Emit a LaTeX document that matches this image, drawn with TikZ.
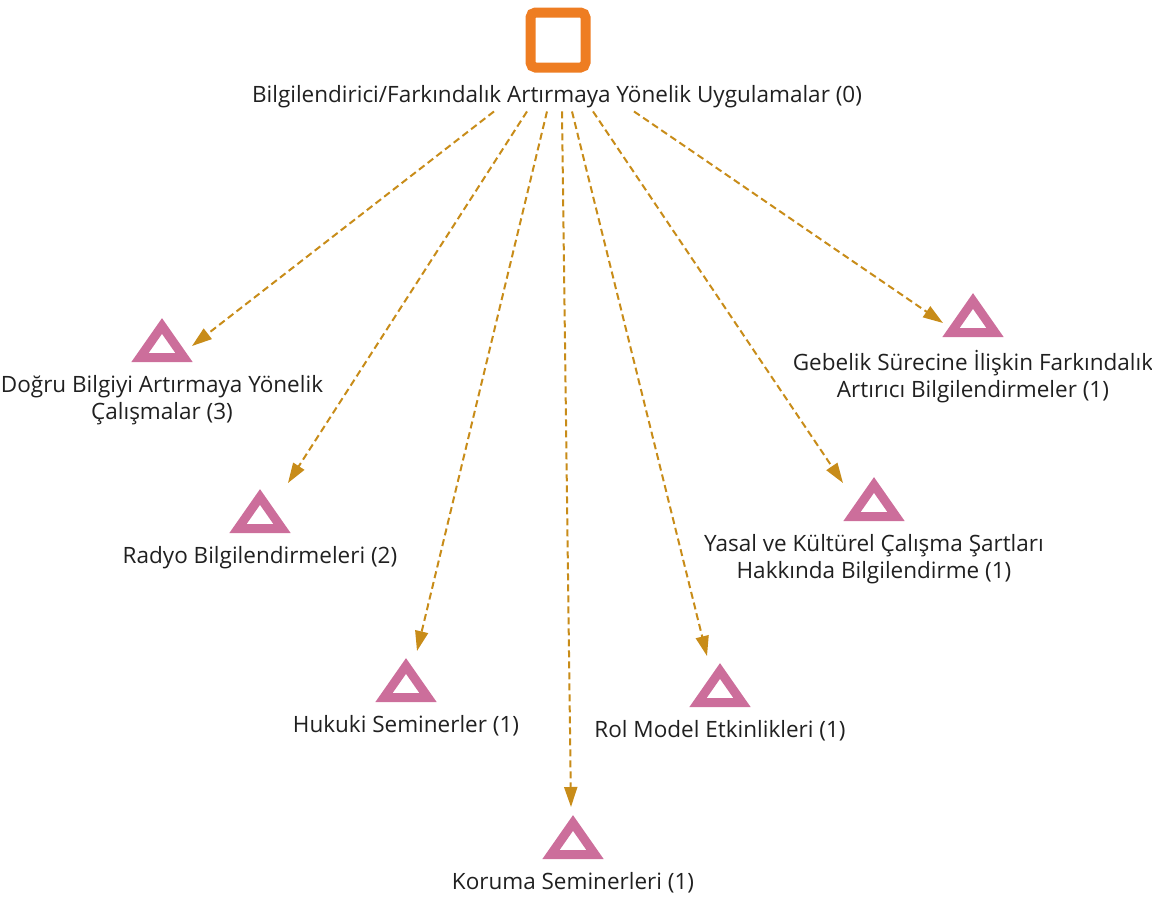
\documentclass[tikz,border=0pt]{standalone}
\usepackage{fontspec}
\setmainfont{Open Sans}
\usepackage{tikz}
\usetikzlibrary{arrows.meta,positioning,calc}
\definecolor{boxorange}{HTML}{EE7D22}
\definecolor{tripink}{HTML}{CC6E9B}
\definecolor{linkgold}{HTML}{C88C19}
\definecolor{textgray}{HTML}{202020}

\begin{document}
\begin{tikzpicture}[
            x=1pt, y=-1pt,
            rootbox/.style = {rectangle, draw=boxorange, line width=10pt,
                              rounded corners=5pt, minimum size=55pt,
                              inner sep=0pt},
                tri/.style = {draw=tripink, line width=9pt, line join=miter},
                lbl/.style = {font=\fontsize{22.5}{27}\selectfont, text=textgray,
                              align=center, inner sep=2pt},
               link/.style = {draw=linkgold, line width=2pt,
                              dash pattern=on 7pt off 4pt,
                              -{Triangle[length=20pt,width=13pt]}},
                ]
            \useasboundingbox (0,0) rectangle (1152,898);
            \node[rootbox] (root) at (558,40) {};
            \node[lbl] (rootlbl) at (557,97)
                {Bilgilendirici/Farkındalık Artırmaya Yönelik Uygulamalar (0)};
            % children: number / centre of triangle / start offset / arrow tip / label
            \foreach \i/\cx/\cy/\dx/\ex/\ey/\txt in {
                1/162/340/-63/192/346/{Doğru Bilgiyi Artırmaya Yönelik\\Çalışmalar (3)},
                2/260/511/-30/288/483/{Radyo Bilgilendirmeleri (2)},
                3/406/680/-10/417/651/{Hukuki Seminerler (1)},
                4/573/837/5/571/807/{Koruma Seminerleri (1)},
                5/720/685/15/707/656/{Rol Model Etkinlikleri (1)},
                6/874/499/36/843/483/{Yasal ve Kültürel Çalışma Şartları\\Hakkında Bilgilendirme (1)},
                7/973/315/77/943/323/{Gebelik Sürecine İlişkin Farkındalık\\Artırıcı Bilgilendirmeler (1)}}
            {
                \coordinate (T\i) at (\cx,\cy);
                \draw[tri] ($(T\i)+(-22,17.5)$) -- ($(T\i)+(0,-14)$)
                        -- ($(T\i)+(22,17.5)$) -- cycle;
                \node[lbl, anchor=north] (L\i) at ($(T\i)+(0,33)$) {\txt};
                \coordinate (S\i) at ($(rootlbl.south)+(\dx,1)$);
                \coordinate (E\i) at (\ex,\ey);
                \draw[link] (S\i) -- (E\i);
            }
        \end{tikzpicture}
\end{document}
